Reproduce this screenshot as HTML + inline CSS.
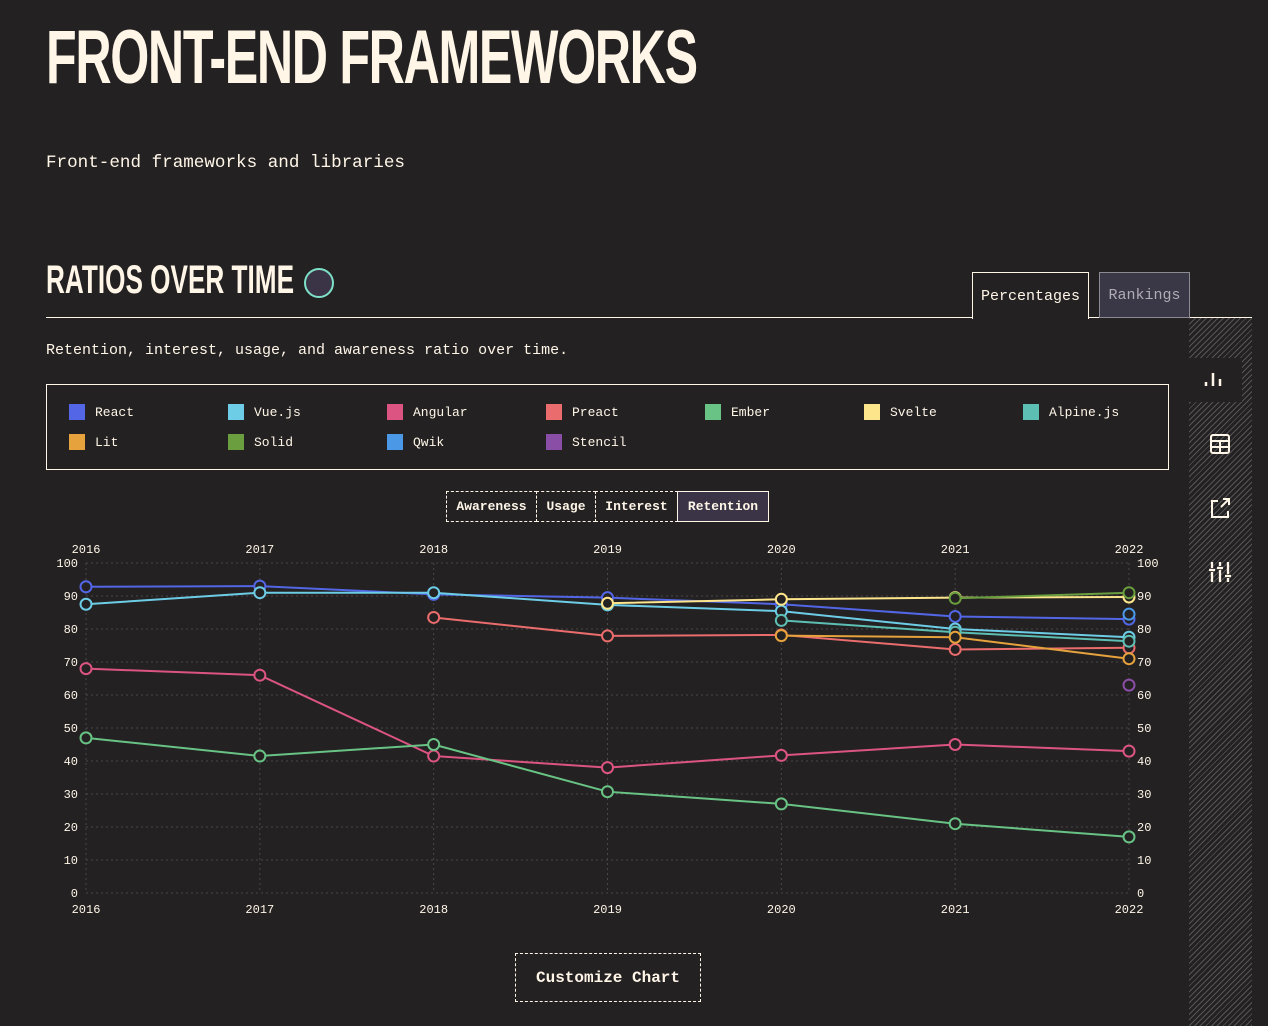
<!DOCTYPE html>
<html><head><meta charset="utf-8">
<style>
body{margin:0;width:1268px;height:1026px;background:#232122;color:#fff6e8;font-family:"Liberation Mono",monospace;overflow:hidden;position:relative}
.abs{position:absolute}
h1{position:absolute;left:46px;top:14px;margin:0;font-family:"Liberation Sans",sans-serif;font-weight:bold;font-size:76px;letter-spacing:-2px;transform:scaleX(0.66);transform-origin:left;color:#fff6e8;white-space:nowrap}
h2{position:absolute;left:46px;top:258px;margin:0;font-family:"Liberation Sans",sans-serif;font-weight:bold;font-size:40px;transform:scaleX(0.654);transform-origin:left;white-space:nowrap}
.tab{position:absolute;top:272px;height:46px;box-sizing:border-box;border:1px solid #8a8a90;font-size:15px;display:flex;align-items:center;justify-content:center}
.legend{position:absolute;left:46px;top:384px;width:1121px;height:84px;border:1px solid #fff6e8}
.li{position:absolute;font-size:13px;display:flex;align-items:center}
.li span{display:inline-block;width:16px;height:16px;margin-right:10px}
.btn{position:absolute;top:491px;height:31px;box-sizing:border-box;border:1px dashed #fff6e8;font-size:13px;font-weight:bold;display:flex;align-items:center;justify-content:center}
.side{position:absolute;left:1189px;top:318px;width:63px;height:708px;background:repeating-linear-gradient(135deg,#555 0 1px,#232122 1px 4px)}
</style></head><body>
<h1>FRONT-END FRAMEWORKS</h1>
<div class="abs" style="left:46px;top:153px;font-size:17.6px">Front-end frameworks and libraries</div>
<h2>RATIOS OVER TIME</h2>
<div class="abs" style="left:304px;top:268px;width:26px;height:26px;border-radius:50%;border:2px solid #7fe0c8;background:#3a3446"></div>
<div class="abs" style="left:46px;top:317px;width:1206px;height:1px;background:#fff6e8"></div>
<div class="tab" style="left:972px;width:117px;background:#232122;border-color:#fff6e8;border-bottom:none;height:47px">Percentages</div>
<div class="tab" style="left:1099px;width:91px;background:#3a3746;color:#b0acb5">Rankings</div>
<div class="abs" style="left:46px;top:342px;font-size:15px">Retention, interest, usage, and awareness ratio over time.</div>
<div class="legend">
<div class="li" style="left:22px;top:19px"><span style="background:#5266e6"></span>React</div>
<div class="li" style="left:181px;top:19px"><span style="background:#6dcde6"></span>Vue.js</div>
<div class="li" style="left:340px;top:19px"><span style="background:#dc5482"></span>Angular</div>
<div class="li" style="left:499px;top:19px"><span style="background:#ea6c6c"></span>Preact</div>
<div class="li" style="left:658px;top:19px"><span style="background:#68c384"></span>Ember</div>
<div class="li" style="left:817px;top:19px"><span style="background:#fde58c"></span>Svelte</div>
<div class="li" style="left:976px;top:19px"><span style="background:#5dbfb4"></span>Alpine.js</div>
<div class="li" style="left:22px;top:49px"><span style="background:#e6a23c"></span>Lit</div>
<div class="li" style="left:181px;top:49px"><span style="background:#6a9e3e"></span>Solid</div>
<div class="li" style="left:340px;top:49px"><span style="background:#4a98e6"></span>Qwik</div>
<div class="li" style="left:499px;top:49px"><span style="background:#8a4ea6"></span>Stencil</div>
</div>
<div class="btn" style="left:446px;width:91px">Awareness</div>
<div class="btn" style="left:536px;width:60px">Usage</div>
<div class="btn" style="left:595px;width:83px">Interest</div>
<div class="btn" style="left:677px;width:92px;background:#3a3446;border-style:solid">Retention</div>
<svg id="chart" class="abs" style="left:0;top:530px" width="1180" height="400"></svg>
<div class="btn" style="left:515px;top:953px;width:186px;height:49px;font-size:16px">Customize Chart</div>
<div class="side"></div>
<div class="abs" style="left:1189px;top:358px;width:53px;height:44px;background:#232122">
<svg width="53" height="44"><path d="M24 28v-4M31 28v-13M38 28v-7" stroke="#fff6e8" stroke-width="2.5" transform="translate(-7,0)"/></svg></div>
<div class="abs" style="left:1209px;top:433px"><svg width="22" height="22"><rect x="2" y="2" width="18" height="18" rx="2" fill="none" stroke="#fff6e8" stroke-width="2"/><path d="M2 8h18M2 14h18M11 8v12" stroke="#fff6e8" stroke-width="2"/></svg></div>
<div class="abs" style="left:1209px;top:497px"><svg width="22" height="22"><path d="M9 4H3v16h16v-6M12 10l8-8M14 2h6v6" fill="none" stroke="#fff6e8" stroke-width="2"/></svg></div>
<div class="abs" style="left:1207px;top:560px"><svg width="26" height="24"><path d="M5 2v6M5 12v10M13 2v4M13 10v12M21 2v12M21 18v4M2 10h6M10 8h6M18 16h6" stroke="#fff6e8" stroke-width="2.3"/></svg></div>
<script>
const years=[2016,2017,2018,2019,2020,2021,2022];
const yTicks=[0,10,20,30,40,50,60,70,80,90,100];
const names=["React","Vue.js","Angular","Preact","Ember","Svelte","Alpine.js","Lit","Solid","Qwik","Stencil"];
const colors=["#5266e6","#6dcde6","#dc5482","#ea6c6c","#68c384","#fde58c","#5dbfb4","#e6a23c","#6a9e3e","#4a98e6","#8a4ea6"];
const react=[92.8,93,90.5,89.5,87.5,83.8,83];
const vue=[87.5,91,91,87.3,85.4,80,77.5];
const angular=[68,66,41.5,38,41.7,45,43];
const preact=[null,null,83.5,77.9,78.2,73.8,74.3];
const ember=[47,41.5,45,30.7,27,21,17];
const svelte=[null,null,null,87.8,89,89.5,89.7];
const alpine=[null,null,null,null,82.6,79,76.3];
const lit=[null,null,null,null,78,77.5,71];
const solid=[null,null,null,null,null,89.3,91];
const qwik=[null,null,null,null,null,null,84.5];
const stencil=[null,null,null,null,null,null,63];
const series=[react,vue,angular,preact,ember,svelte,alpine,lit,solid,qwik,stencil];
const svg=document.getElementById('chart');
const NS='http://www.w3.org/2000/svg';
const x=i=>86+i*(1129-86)/(years.length-1);
const y=v=>363-v*3.3;
function mk(t,a){const e=document.createElementNS(NS,t);for(const k in a)e.setAttribute(k,a[k]);svg.appendChild(e);return e;}
yTicks.forEach(t=>{
 const g=mk('line',{x1:86,x2:1129,y1:y(t),y2:y(t),stroke:'#4a4848','stroke-dasharray':'2 3'});
 
 
 [[78,'end'],[1137,'start']].forEach(([px,an])=>{const l=mk('text',{x:px,y:y(t)+4,fill:'#fff6e8','font-size':12,'text-anchor':an,'font-family':'Liberation Mono'});l.textContent=t;
 
 });
});
years.forEach((yr,i)=>{
 const g=mk('line',{x1:x(i),x2:x(i),y1:y(100),y2:y(0),stroke:'#4a4848','stroke-dasharray':'2 3'});
 
 
 [23,383].forEach(py=>{const l=mk('text',{x:x(i),y:py,fill:'#fff6e8','font-size':12,'text-anchor':'middle','font-family':'Liberation Mono'});l.textContent=yr;
 
 });
});
series.forEach((s,k)=>{
 let d='';s.forEach((v,i)=>{if(v!==null)d+=(d?'L':'M')+x(i)+' '+y(v);});
 const p=mk('path',{d:d,fill:'none',stroke:colors[k],'stroke-width':2});
 
 
 s.forEach((v,i)=>{if(v===null)return;
  const c=mk('circle',{cx:x(i),cy:y(v),r:5.5,fill:'#232122',stroke:colors[k],'stroke-width':2});
  
  });
});
</script>
</body></html>
